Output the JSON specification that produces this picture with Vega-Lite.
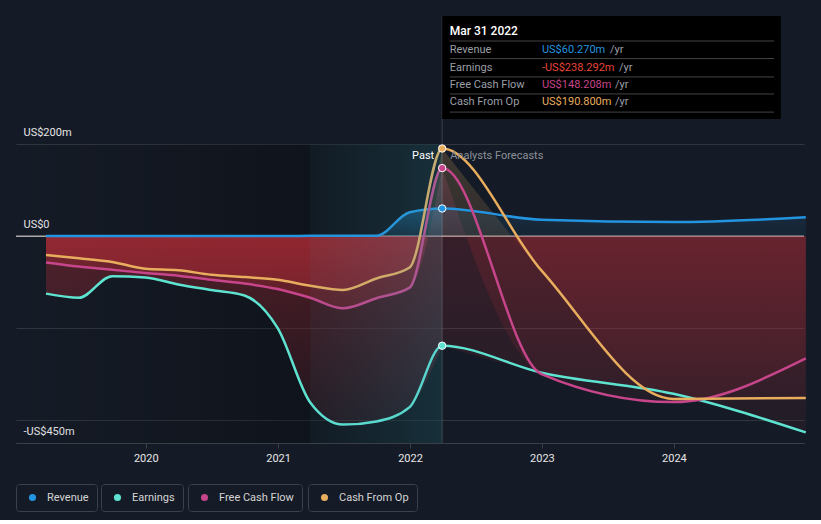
{
  "$schema": "https://vega.github.io/schema/vega-lite/v6.json",
  "width": 788,
  "height": 432,
  "padding": {"left": 15, "top": 11, "right": 18, "bottom": 8},
  "background": "#151b26",
  "config": {
    "view": {"stroke": null},
    "font": "Roboto",
    "legend": {
      "orient": "none",
      "strokeColor": "#3b414a",
      "strokeWidth": 1,
      "cornerRadius": 3,
      "padding": 8,
      "symbolType": "circle",
      "symbolSize": 50,
      "labelColor": "#d4d4d4",
      "labelFontSize": 11,
      "labelFont": "Roboto",
      "labelOffset": 9,
      "symbolOffset": 3
    }
  },
  "data": {
    "values": [
      {"date": "2019-03-31", "series": "Revenue", "value": 0.3},
      {"date": "2019-06-30", "series": "Revenue", "value": 0.3},
      {"date": "2019-09-30", "series": "Revenue", "value": 0.4},
      {"date": "2019-12-31", "series": "Revenue", "value": 0.4},
      {"date": "2020-03-31", "series": "Revenue", "value": 0.5},
      {"date": "2020-06-30", "series": "Revenue", "value": 0.5},
      {"date": "2020-09-30", "series": "Revenue", "value": 0.6},
      {"date": "2020-12-31", "series": "Revenue", "value": 0.6},
      {"date": "2021-03-31", "series": "Revenue", "value": 0.7},
      {"date": "2021-06-30", "series": "Revenue", "value": 0.8},
      {"date": "2021-09-30", "series": "Revenue", "value": 0.9},
      {"date": "2021-12-31", "series": "Revenue", "value": 52},
      {"date": "2022-03-31", "series": "Revenue", "value": 60.27},
      {"date": "2022-12-31", "series": "Revenue", "value": 36},
      {"date": "2023-12-31", "series": "Revenue", "value": 31},
      {"date": "2024-12-31", "series": "Revenue", "value": 41},
      {"date": "2019-03-31", "series": "Earnings", "value": -125},
      {"date": "2019-06-30", "series": "Earnings", "value": -134},
      {"date": "2019-09-30", "series": "Earnings", "value": -87},
      {"date": "2019-12-31", "series": "Earnings", "value": -90},
      {"date": "2020-03-31", "series": "Earnings", "value": -105},
      {"date": "2020-06-30", "series": "Earnings", "value": -117},
      {"date": "2020-09-30", "series": "Earnings", "value": -129},
      {"date": "2020-12-31", "series": "Earnings", "value": -200},
      {"date": "2021-03-31", "series": "Earnings", "value": -362},
      {"date": "2021-06-30", "series": "Earnings", "value": -410},
      {"date": "2021-09-30", "series": "Earnings", "value": -403},
      {"date": "2021-12-31", "series": "Earnings", "value": -372},
      {"date": "2022-03-31", "series": "Earnings", "value": -238.292},
      {"date": "2022-12-31", "series": "Earnings", "value": -297},
      {"date": "2023-12-31", "series": "Earnings", "value": -343},
      {"date": "2024-12-31", "series": "Earnings", "value": -427},
      {"date": "2019-03-31", "series": "Free Cash Flow", "value": -57},
      {"date": "2019-06-30", "series": "Free Cash Flow", "value": -66},
      {"date": "2019-09-30", "series": "Free Cash Flow", "value": -73},
      {"date": "2019-12-31", "series": "Free Cash Flow", "value": -80},
      {"date": "2020-03-31", "series": "Free Cash Flow", "value": -86},
      {"date": "2020-06-30", "series": "Free Cash Flow", "value": -95},
      {"date": "2020-09-30", "series": "Free Cash Flow", "value": -103},
      {"date": "2020-12-31", "series": "Free Cash Flow", "value": -115},
      {"date": "2021-03-31", "series": "Free Cash Flow", "value": -134},
      {"date": "2021-06-30", "series": "Free Cash Flow", "value": -157},
      {"date": "2021-09-30", "series": "Free Cash Flow", "value": -135},
      {"date": "2021-12-31", "series": "Free Cash Flow", "value": -112},
      {"date": "2022-03-31", "series": "Free Cash Flow", "value": 148.208},
      {"date": "2022-12-31", "series": "Free Cash Flow", "value": -300},
      {"date": "2023-12-31", "series": "Free Cash Flow", "value": -361},
      {"date": "2024-12-31", "series": "Free Cash Flow", "value": -266},
      {"date": "2019-03-31", "series": "Cash From Op", "value": -41},
      {"date": "2019-06-30", "series": "Cash From Op", "value": -48},
      {"date": "2019-09-30", "series": "Cash From Op", "value": -56},
      {"date": "2019-12-31", "series": "Cash From Op", "value": -71},
      {"date": "2020-03-31", "series": "Cash From Op", "value": -74},
      {"date": "2020-06-30", "series": "Cash From Op", "value": -84},
      {"date": "2020-09-30", "series": "Cash From Op", "value": -89},
      {"date": "2020-12-31", "series": "Cash From Op", "value": -95},
      {"date": "2021-03-31", "series": "Cash From Op", "value": -108},
      {"date": "2021-06-30", "series": "Cash From Op", "value": -117},
      {"date": "2021-09-30", "series": "Cash From Op", "value": -92},
      {"date": "2021-12-31", "series": "Cash From Op", "value": -68},
      {"date": "2022-03-31", "series": "Cash From Op", "value": 190.8},
      {"date": "2022-12-31", "series": "Cash From Op", "value": -75},
      {"date": "2023-12-31", "series": "Cash From Op", "value": -354},
      {"date": "2024-12-31", "series": "Cash From Op", "value": -352}
    ],
    "format": {"parse": {"date": "date"}}
  },
  "resolve": {"scale": {"color": "independent"}},
  "layer": [
    {
      "data": {"values": [{}]},
      "mark": {"type": "rect", "fill": {"gradient": "linear", "x1": 0, "x2": 1, "y1": 0, "y2": 0, "stops": [{"offset": 0, "color": "rgba(0,0,0,0)"}, {"offset": 1, "color": "rgba(0,0,0,0.4)"}]}},
      "encoding": {
        "x": {"datum": {"year": 2019, "month": 1, "date": 7, "utc": true}, "type": "temporal",
          "scale": {"type": "utc", "domain": [{"year": 2019, "month": 1, "date": 7, "utc": true}, {"year": 2024, "month": 12, "date": 26, "utc": true}]},
          "axis": {"title": null, "values": [{"year": 2020, "month": 1, "date": 1, "utc": true}, {"year": 2021, "month": 1, "date": 1, "utc": true}, {"year": 2022, "month": 1, "date": 1, "utc": true}, {"year": 2023, "month": 1, "date": 1, "utc": true}, {"year": 2024, "month": 1, "date": 1, "utc": true}],
            "format": "%Y", "grid": false, "domainColor": "#3a3f47", "tickColor": "#3a3f47", "tickSize": 5, "labelColor": "#e6e6e6", "labelFontSize": 11, "labelFont": "Roboto", "labelPadding": 4, "labelFlush": false}},
        "x2": {"datum": {"year": 2022, "month": 3, "date": 31, "utc": true}},
        "y": {"datum": 200, "type": "quantitative",
          "scale": {"domain": [-450, 490], "nice": false, "zero": false},
          "axis": {"title": null, "values": [200, 0, -200, -400, -450], "labelExpr": "datum.value == 200 ? 'US$200m' : datum.value == 0 ? 'US$0' : datum.value == -450 ? '-US$450m' : ''",
            "domain": false, "ticks": false, "grid": true, "gridColor": "#30353e", "labelAlign": "left", "labelBaseline": "middle", "labelPadding": -7, "labelOffset": -12,
            "labelColor": "#e6e6e6", "labelFontSize": 11, "labelFont": "Roboto", "labelFlush": false, "labelOverlap": false}},
        "y2": {"datum": -450}
      }
    },
    {
      "data": {"values": [{}]},
      "mark": {"type": "rule", "color": "#a9a9a9", "strokeWidth": 1.5},
      "encoding": {"y": {"datum": 0, "type": "quantitative"}}
    },
    {
      "transform": [{"filter": "datum.series === 'Revenue' && time(datum.date) <= utc(2022,2,31)"}],
      "mark": {"type": "area", "interpolate": "monotone", "fill": {"gradient": "linear", "x1": 0, "x2": 0, "y1": 0, "y2": 1, "stops": [{"offset": 0, "color": "rgba(35,148,223,0.35)"}, {"offset": 1, "color": "rgba(35,148,223,0.12)"}]}},
      "encoding": {"x": {"field": "date", "type": "temporal"}, "y": {"field": "value", "type": "quantitative"}, "y2": {"datum": 0}}
    },
    {
      "transform": [{"filter": "datum.series === 'Revenue' && time(datum.date) >= utc(2022,2,31)"}],
      "mark": {"type": "area", "interpolate": "monotone", "fill": {"gradient": "linear", "x1": 0, "x2": 0, "y1": 0, "y2": 1, "stops": [{"offset": 0, "color": "rgba(35,148,223,0.15)"}, {"offset": 1, "color": "rgba(35,148,223,0.07)"}]}},
      "encoding": {"x": {"field": "date", "type": "temporal"}, "y": {"field": "value", "type": "quantitative"}, "y2": {"datum": 0}}
    },
    {
      "transform": [{"filter": "datum.series === 'Earnings' && time(datum.date) <= utc(2022,2,31)"}],
      "mark": {"type": "area", "interpolate": "monotone", "fill": {"gradient": "linear", "x1": 0, "x2": 0, "y1": 0, "y2": 1, "stops": [{"offset": 0, "color": "rgba(190,45,55,0.36)"}, {"offset": 1, "color": "rgba(190,45,55,0.1)"}]}},
      "encoding": {"x": {"field": "date", "type": "temporal"}, "y": {"field": "value", "type": "quantitative"}, "y2": {"datum": 0}}
    },
    {
      "transform": [{"filter": "datum.series === 'Earnings' && time(datum.date) >= utc(2022,2,31)"}],
      "mark": {"type": "area", "interpolate": "monotone", "fill": {"gradient": "linear", "x1": 0, "x2": 0, "y1": 0, "y2": 1, "stops": [{"offset": 0, "color": "rgba(190,45,55,0.2)"}, {"offset": 1, "color": "rgba(190,45,55,0.07)"}]}},
      "encoding": {"x": {"field": "date", "type": "temporal"}, "y": {"field": "value", "type": "quantitative"}, "y2": {"datum": 0}}
    },
    {
      "transform": [{"filter": "datum.series === 'Free Cash Flow' && time(datum.date) <= utc(2022,2,31)"}],
      "mark": {"type": "area", "interpolate": "monotone", "fill": {"gradient": "linear", "x1": 0, "x2": 0, "y1": 0, "y2": 1, "stops": [{"offset": 0, "color": "rgba(199,69,138,0.25)"}, {"offset": 0.486, "color": "rgba(199,69,138,0.12)"}, {"offset": 0.486, "color": "rgba(190,45,55,0.36)"}, {"offset": 1, "color": "rgba(190,45,55,0.22)"}]}},
      "encoding": {"x": {"field": "date", "type": "temporal"}, "y": {"field": "value", "type": "quantitative"}, "y2": {"datum": 0}}
    },
    {
      "transform": [{"filter": "datum.series === 'Free Cash Flow' && time(datum.date) >= utc(2022,2,31)"}],
      "mark": {"type": "area", "interpolate": "monotone", "fill": {"gradient": "linear", "x1": 0, "x2": 0, "y1": 0, "y2": 1, "stops": [{"offset": 0, "color": "rgba(199,69,138,0.2)"}, {"offset": 0.291, "color": "rgba(199,69,138,0.1)"}, {"offset": 0.291, "color": "rgba(190,45,55,0.2)"}, {"offset": 1, "color": "rgba(190,45,55,0.07)"}]}},
      "encoding": {"x": {"field": "date", "type": "temporal"}, "y": {"field": "value", "type": "quantitative"}, "y2": {"datum": 0}}
    },
    {
      "transform": [{"filter": "datum.series === 'Cash From Op' && time(datum.date) <= utc(2022,2,31)"}],
      "mark": {"type": "area", "interpolate": "monotone", "fill": {"gradient": "linear", "x1": 0, "x2": 0, "y1": 0, "y2": 1, "stops": [{"offset": 0, "color": "rgba(233,173,94,0.22)"}, {"offset": 0.62, "color": "rgba(233,173,94,0.1)"}, {"offset": 0.62, "color": "rgba(190,45,55,0.36)"}, {"offset": 1, "color": "rgba(190,45,55,0.26)"}]}},
      "encoding": {"x": {"field": "date", "type": "temporal"}, "y": {"field": "value", "type": "quantitative"}, "y2": {"datum": 0}}
    },
    {
      "transform": [{"filter": "datum.series === 'Cash From Op' && time(datum.date) >= utc(2022,2,31)"}],
      "mark": {"type": "area", "interpolate": "monotone", "fill": {"gradient": "linear", "x1": 0, "x2": 0, "y1": 0, "y2": 1, "stops": [{"offset": 0, "color": "rgba(233,173,94,0.2)"}, {"offset": 0.35, "color": "rgba(233,173,94,0.12)"}, {"offset": 0.35, "color": "rgba(190,45,55,0.2)"}, {"offset": 1, "color": "rgba(190,45,55,0.08)"}]}},
      "encoding": {"x": {"field": "date", "type": "temporal"}, "y": {"field": "value", "type": "quantitative"}, "y2": {"datum": 0}}
    },
    {
      "transform": [{"filter": "datum.series === 'Revenue'"}],
      "mark": {"type": "line", "interpolate": "monotone", "strokeWidth": 2.5},
      "encoding": {"x": {"field": "date", "type": "temporal"}, "y": {"field": "value", "type": "quantitative"},
        "color": {"datum": "Revenue", "scale": {"range": ["#2394df"]}, "legend": {"title": null, "legendX": 0, "legendY": 473, "encode": {"symbols": {"update": {"fill": {"value": "#2394df"}, "stroke": {"value": "#2394df"}, "strokeWidth": {"value": 0}}}}}}}
    },
    {
      "transform": [{"filter": "datum.series === 'Earnings'"}],
      "mark": {"type": "line", "interpolate": "monotone", "strokeWidth": 2.5},
      "encoding": {"x": {"field": "date", "type": "temporal"}, "y": {"field": "value", "type": "quantitative"},
        "color": {"datum": "Earnings", "scale": {"range": ["#5ee3d1"]}, "legend": {"title": null, "legendX": 85, "legendY": 473, "encode": {"symbols": {"update": {"fill": {"value": "#5ee3d1"}, "stroke": {"value": "#5ee3d1"}, "strokeWidth": {"value": 0}}}}}}}
    },
    {
      "transform": [{"filter": "datum.series === 'Free Cash Flow'"}],
      "mark": {"type": "line", "interpolate": "monotone", "strokeWidth": 2.5},
      "encoding": {"x": {"field": "date", "type": "temporal"}, "y": {"field": "value", "type": "quantitative"},
        "color": {"datum": "Free Cash Flow", "scale": {"range": ["#c7458a"]}, "legend": {"title": null, "legendX": 172, "legendY": 473, "encode": {"symbols": {"update": {"fill": {"value": "#c7458a"}, "stroke": {"value": "#c7458a"}, "strokeWidth": {"value": 0}}}}}}}
    },
    {
      "transform": [{"filter": "datum.series === 'Cash From Op'"}],
      "mark": {"type": "line", "interpolate": "monotone", "strokeWidth": 2.5},
      "encoding": {"x": {"field": "date", "type": "temporal"}, "y": {"field": "value", "type": "quantitative"},
        "color": {"datum": "Cash From Op", "scale": {"range": ["#e9ad5e"]}, "legend": {"title": null, "legendX": 292, "legendY": 473, "encode": {"symbols": {"update": {"fill": {"value": "#e9ad5e"}, "stroke": {"value": "#e9ad5e"}, "strokeWidth": {"value": 0}}}}}}}
    },
    {
      "data": {"values": [{}]},
      "mark": {"type": "rect", "fill": {"gradient": "linear", "x1": 0, "x2": 1, "y1": 0, "y2": 0, "stops": [{"offset": 0, "color": "rgba(60,150,175,0.06)"}, {"offset": 1, "color": "rgba(60,160,185,0.22)"}]}},
      "encoding": {
        "x": {"datum": {"year": 2021, "month": 3, "date": 31, "utc": true}, "type": "temporal"},
        "x2": {"datum": {"year": 2022, "month": 3, "date": 31, "utc": true}},
        "y": {"datum": 200, "type": "quantitative"},
        "y2": {"datum": -450}
      }
    },
    {
      "data": {"values": [{}]},
      "mark": {"type": "rule", "color": "rgba(255,255,255,0.16)", "strokeWidth": 1},
      "encoding": {
        "x": {"datum": {"year": 2022, "month": 3, "date": 31, "utc": true}, "type": "temporal"},
        "y": {"datum": 479, "type": "quantitative"},
        "y2": {"datum": -450}
      }
    },
    {
      "transform": [{"filter": "time(datum.date) === utc(2022,2,31)"}],
      "mark": {"type": "point", "filled": true, "size": 55, "stroke": "#ffffff", "strokeWidth": 1, "opacity": 1},
      "encoding": {"x": {"field": "date", "type": "temporal"}, "y": {"field": "value", "type": "quantitative"},
        "fill": {"field": "series", "type": "nominal", "scale": {"domain": ["Revenue", "Earnings", "Free Cash Flow", "Cash From Op"], "range": ["#2394df", "#5ee3d1", "#c7458a", "#e9ad5e"]}, "legend": null}}
    },
    {
      "data": {"values": [{}]},
      "mark": {"type": "text", "text": "Past", "align": "right", "baseline": "middle", "dx": -8, "color": "#ffffff", "fontSize": 11, "font": "Roboto"},
      "encoding": {"x": {"datum": {"year": 2022, "month": 3, "date": 31, "utc": true}, "type": "temporal"}, "y": {"datum": 174.5, "type": "quantitative"}}
    },
    {
      "data": {"values": [{}]},
      "mark": {"type": "text", "text": "Analysts Forecasts", "align": "left", "baseline": "middle", "dx": 8, "color": "#8b9098", "fontSize": 11, "font": "Roboto"},
      "encoding": {"x": {"datum": {"year": 2022, "month": 3, "date": 31, "utc": true}, "type": "temporal"}, "y": {"datum": 174.5, "type": "quantitative"}}
    },
    {
      "data": {"values": [{}]},
      "mark": {"type": "rect", "fill": "#000000"},
      "encoding": {
        "x": {"datum": {"year": 2022, "month": 3, "date": 31, "utc": true}, "type": "temporal"},
        "x2": {"datum": {"year": 2024, "month": 10, "date": 23, "utc": true}},
        "y": {"datum": 479.2, "type": "quantitative"},
        "y2": {"datum": 255}
      }
    },
    {"data": {"values": [{}]}, "mark": {"type": "rule", "color": "#444444", "strokeWidth": 1},
      "encoding": {"x": {"datum": {"year": 2022, "month": 4, "date": 21, "utc": true}, "type": "temporal"}, "x2": {"datum": {"year": 2024, "month": 10, "date": 4, "utc": true}}, "y": {"datum": 424.7, "type": "quantitative"}}},
    {"data": {"values": [{}]}, "mark": {"type": "rule", "color": "#444444", "strokeWidth": 1},
      "encoding": {"x": {"datum": {"year": 2022, "month": 4, "date": 21, "utc": true}, "type": "temporal"}, "x2": {"datum": {"year": 2024, "month": 10, "date": 4, "utc": true}}, "y": {"datum": 386.5, "type": "quantitative"}}},
    {"data": {"values": [{}]}, "mark": {"type": "rule", "color": "#444444", "strokeWidth": 1},
      "encoding": {"x": {"datum": {"year": 2022, "month": 4, "date": 21, "utc": true}, "type": "temporal"}, "x2": {"datum": {"year": 2024, "month": 10, "date": 4, "utc": true}}, "y": {"datum": 346.5, "type": "quantitative"}}},
    {"data": {"values": [{}]}, "mark": {"type": "rule", "color": "#444444", "strokeWidth": 1},
      "encoding": {"x": {"datum": {"year": 2022, "month": 4, "date": 21, "utc": true}, "type": "temporal"}, "x2": {"datum": {"year": 2024, "month": 10, "date": 4, "utc": true}}, "y": {"datum": 309.5, "type": "quantitative"}}},
    {"data": {"values": [{}]}, "mark": {"type": "rule", "color": "#444444", "strokeWidth": 1},
      "encoding": {"x": {"datum": {"year": 2022, "month": 4, "date": 21, "utc": true}, "type": "temporal"}, "x2": {"datum": {"year": 2024, "month": 10, "date": 4, "utc": true}}, "y": {"datum": 270, "type": "quantitative"}}},
    {"data": {"values": [{}]}, "mark": {"type": "text", "text": "Mar 31 2022", "align": "left", "baseline": "middle", "color": "#ffffff", "fontSize": 12, "fontWeight": 500, "font": "Roboto"},
      "encoding": {"x": {"datum": {"year": 2022, "month": 4, "date": 21, "utc": true}, "type": "temporal"}, "y": {"datum": 446.5, "type": "quantitative"}}},
    {"data": {"values": [{}]}, "mark": {"type": "text", "text": ["Revenue", "Earnings", "Free Cash Flow", "Cash From Op"], "lineHeight": 17.35, "align": "left", "baseline": "top", "dy": -5, "color": "#9a9fa6", "fontSize": 11, "font": "Roboto"},
      "encoding": {"x": {"datum": {"year": 2022, "month": 4, "date": 21, "utc": true}, "type": "temporal"}, "y": {"datum": 406.7, "type": "quantitative"}}},
    {"data": {"values": [{}]}, "mark": {"type": "text", "text": "US$60.270m", "align": "left", "baseline": "middle", "color": "#2394df", "fontSize": 11, "font": "Roboto"},
      "encoding": {"x": {"datum": {"year": 2023, "month": 1, "date": 1, "utc": true}, "type": "temporal"}, "y": {"datum": 404.5, "type": "quantitative"}}},
    {"data": {"values": [{}]}, "mark": {"type": "text", "text": "-US$238.292m", "align": "left", "baseline": "middle", "color": "#e8443a", "fontSize": 11, "font": "Roboto"},
      "encoding": {"x": {"datum": {"year": 2023, "month": 1, "date": 1, "utc": true}, "type": "temporal"}, "y": {"datum": 366.6, "type": "quantitative"}}},
    {"data": {"values": [{}]}, "mark": {"type": "text", "text": "US$148.208m", "align": "left", "baseline": "middle", "color": "#c7458a", "fontSize": 11, "font": "Roboto"},
      "encoding": {"x": {"datum": {"year": 2023, "month": 1, "date": 1, "utc": true}, "type": "temporal"}, "y": {"datum": 329.0, "type": "quantitative"}}},
    {"data": {"values": [{}]}, "mark": {"type": "text", "text": "US$190.800m", "align": "left", "baseline": "middle", "color": "#e9ad5e", "fontSize": 11, "font": "Roboto"},
      "encoding": {"x": {"datum": {"year": 2023, "month": 1, "date": 1, "utc": true}, "type": "temporal"}, "y": {"datum": 291.3, "type": "quantitative"}}},
    {"data": {"values": [{}]}, "mark": {"type": "text", "text": "/yr", "align": "left", "baseline": "middle", "color": "#9a9fa6", "fontSize": 11, "font": "Roboto"},
      "encoding": {"x": {"datum": {"year": 2023, "month": 7, "date": 8, "utc": true}, "type": "temporal"}, "y": {"datum": 404.5, "type": "quantitative"}}},
    {"data": {"values": [{}]}, "mark": {"type": "text", "text": "/yr", "align": "left", "baseline": "middle", "color": "#9a9fa6", "fontSize": 11, "font": "Roboto"},
      "encoding": {"x": {"datum": {"year": 2023, "month": 8, "date": 2, "utc": true}, "type": "temporal"}, "y": {"datum": 366.6, "type": "quantitative"}}},
    {"data": {"values": [{}]}, "mark": {"type": "text", "text": "/yr", "align": "left", "baseline": "middle", "color": "#9a9fa6", "fontSize": 11, "font": "Roboto"},
      "encoding": {"x": {"datum": {"year": 2023, "month": 7, "date": 22, "utc": true}, "type": "temporal"}, "y": {"datum": 329.0, "type": "quantitative"}}},
    {"data": {"values": [{}]}, "mark": {"type": "text", "text": "/yr", "align": "left", "baseline": "middle", "color": "#9a9fa6", "fontSize": 11, "font": "Roboto"},
      "encoding": {"x": {"datum": {"year": 2023, "month": 7, "date": 22, "utc": true}, "type": "temporal"}, "y": {"datum": 291.3, "type": "quantitative"}}}
  ]
}
